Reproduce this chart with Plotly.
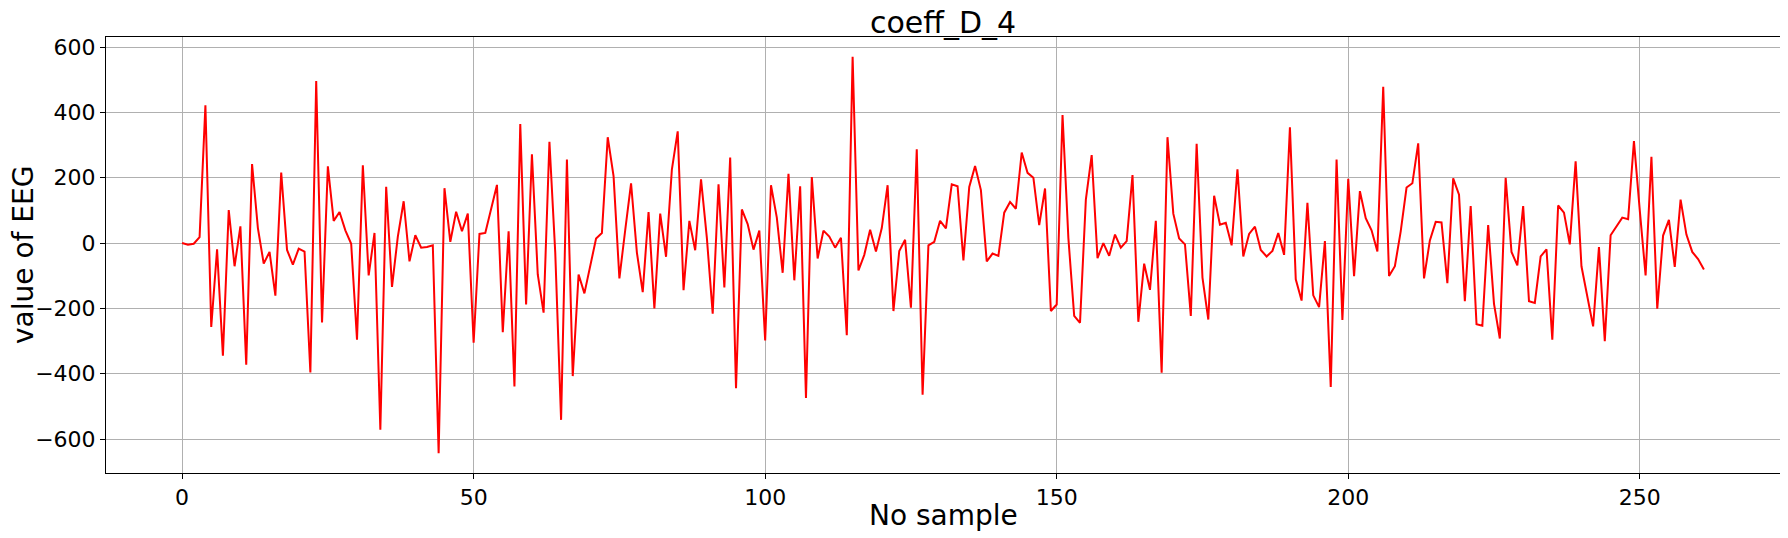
import plotly.graph_objects as go

# coeff_D_4 values, one per sample
coeff_d4 = [
    0, -5, -2, 18, 422, -257, -19, -345, 101, -71,
    51, -372, 242, 46, -63, -27, -161, 216, -21, -66,
    -17, -26, -396, 496, -243, 235, 68, 95, 39, -2,
    -296, 238, -99, 31, -571, 172, -134, 20, 128, -56,
    24, -14, -12, -7, -643, 168, 4, 96, 36, 90,
    -305, 28, 31, 108, 178, -273, 36, -439, 364, -188,
    272, -96, -213, 310, -30, -541, 256, -407, -96, -154,
    -71, 14, 31, 324, 205, -108, 40, 183, -29, -150,
    95, -200, 90, -42, 225, 342, -144, 68, -22, 195,
    16, -216, 180, -136, 262, -444, 103, 58, -20, 38,
    -298, 177, 78, -91, 212, -114, 174, -474, 202, -47,
    38, 20, -14, 16, -282, 570, -84, -36, 41, -26,
    46, 177, -208, -24, 10, -198, 287, -464, -7, 4,
    68, 45, 180, 174, -53, 172, 236, 162, -56, -32,
    -39, 93, 126, 105, 277, 215, 200, 55, 167, -208,
    -188, 392, 16, -223, -244, 133, 269, -46, 0, -39,
    26, -14, 6, 208, -241, -63, -143, 68, -397, 324,
    90, 14, -4, -223, 304, -106, -234, 145, 56, 62,
    -7, 226, -41, 28, 50, -21, -41, -24, 31, -36,
    354, -111, -176, 123, -160, -196, 6, -440, 256, -235,
    197, -101, 159, 76, 39, -26, 478, -101, -71, 36,
    170, 183, 305, -108, 8, 65, 63, -123, 198, 148,
    -178, 113, -248, -253, 55, -186, -292, 200, -27, -68,
    113, -178, -183, -41, -19, -296, 115, 93, -4, 250,
    -71, -168, -255, -12, -300, 24, 53, 78, 73, 312,
    100, -99, 264, -201, 23, 71, -73, 133, 26, -27,
    -49, -81,
]
samples = list(range(len(coeff_d4)))

x_ticks = [0, 50, 100, 150, 200, 250]
y_ticks = [-600, -400, -200, 0, 200, 400, 600]

# matplotlib-like 5% margins around the data
x_span = samples[-1] - samples[0]
y_lo, y_hi = min(coeff_d4), max(coeff_d4)
y_span = y_hi - y_lo
x_range = [samples[0] - 0.05 * x_span, samples[-1] + 0.05 * x_span]
y_range = [y_lo - 0.05 * y_span, y_hi + 0.05 * y_span]

font = "DejaVu Sans"

fig = go.Figure()
fig.add_trace(
    go.Scatter(
        x=samples,
        y=coeff_d4,
        mode="lines",
        line=dict(color="red", width=2),
        showlegend=False,
    )
)

axis_style = dict(
    showline=True,
    mirror=True,
    linecolor="black",
    linewidth=1,
    ticks="outside",
    ticklen=5,
    tickcolor="black",
    showgrid=True,
    gridcolor="#b0b0b0",
    gridwidth=1,
    zeroline=False,
    automargin=False,
    tickfont=dict(family=font, size=22, color="black"),
)

fig.update_xaxes(range=x_range, tickvals=x_ticks, **axis_style)
fig.update_yaxes(range=y_range, tickvals=y_ticks, **axis_style)

# axis labels as annotations so they sit where matplotlib put them
fig.add_annotation(
    text="No sample", xref="paper", yref="paper", x=0.5, y=0,
    xanchor="center", yanchor="middle", yshift=-42, showarrow=False,
    font=dict(family=font, size=28, color="black"),
)
fig.add_annotation(
    text="value of EEG", xref="paper", yref="paper", x=0, y=0.5,
    xanchor="center", yanchor="middle", xshift=-83, textangle=-90, showarrow=False,
    font=dict(family=font, size=28, color="black"),
)

# the page body adds an 8px offset, so the figure is drawn 8px smaller
fig.update_layout(
    width=1780,
    height=530,
    margin=dict(l=98, r=8, t=29, b=65),
    paper_bgcolor="white",
    plot_bgcolor="white",
    title=dict(
        text="coeff_D_4",
        x=0.5,
        xref="paper",
        xanchor="center",
        y=1 - 14 / 530,
        yref="container",
        yanchor="middle",
        font=dict(family=font, size=30, color="black"),
    ),
)

fig.write_html("out.html")
